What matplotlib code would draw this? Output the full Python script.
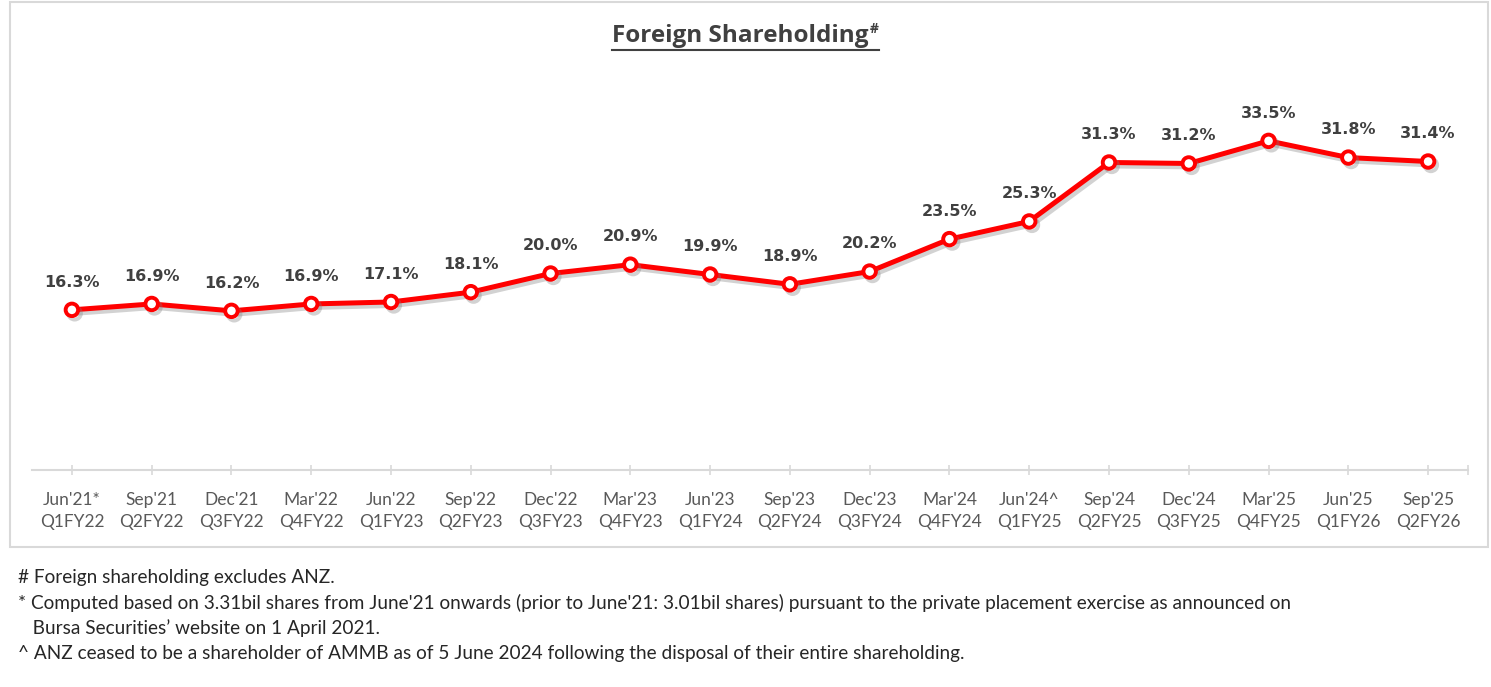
# foreign shareholding - line chart s popismi
import matplotlib.pyplot as plt
import matplotlib.patheffects as pe
from matplotlib.lines import Line2D
from matplotlib.patches import Rectangle

periods = ["Jun'21*", "Sep'21", "Dec'21", "Mar'22", "Jun'22", "Sep'22", "Dec'22", "Mar'23", "Jun'23",
           "Sep'23", "Dec'23", "Mar'24", "Jun'24^", "Sep'24", "Dec'24", "Mar'25", "Jun'25", "Sep'25"]
quarters = ["Q1FY22", "Q2FY22", "Q3FY22", "Q4FY22", "Q1FY23", "Q2FY23", "Q3FY23", "Q4FY23", "Q1FY24",
            "Q2FY24", "Q3FY24", "Q4FY24", "Q1FY25", "Q2FY25", "Q3FY25", "Q4FY25", "Q1FY26", "Q2FY26"]
foreign_pct = [16.3, 16.9, 16.2, 16.9, 17.1, 18.1, 20.0, 20.9, 19.9,
               18.9, 20.2, 23.5, 25.3, 31.3, 31.2, 33.5, 31.8, 31.4]
footnotes = [
    "# Foreign shareholding excludes ANZ.",
    "* Computed based on 3.31bil shares from June'21 onwards (prior to June'21: 3.01bil shares) pursuant to the private placement exercise as announced on",
    "   Bursa Securities\u2019 website on 1 April 2021.",
    "^ ANZ ceased to be a shareholder of AMMB as of 5 June 2024 following the disposal of their entire shareholding.",
]

W, H = 1491, 687
fig = plt.figure(figsize=(W / 100, H / 100), dpi=100)
fig.patch.set_facecolor("white")

# ramik okolo grafu
fig.add_artist(Rectangle((10 / W, 1 - 547 / H), 1478 / W, 545 / H, transform=fig.transFigure,
                         fill=False, edgecolor="#d9d9d9", linewidth=1.5))

ax = fig.add_axes([32 / W, 217 / H, 1436 / W, 393 / H])
x = list(range(len(foreign_pct)))
ax.plot(x, foreign_pct, "-o", color="#ff0000", lw=3.6, ms=9, mfc="white", mec="#ff0000", mew=2.8,
        path_effects=[pe.SimpleLineShadow(offset=(2, -2.5), shadow_color="#808080", alpha=0.35),
                      pe.Normal()], zorder=3)

for xi, v in zip(x, foreign_pct):
    ax.annotate(f"{v:.1f}%", xy=(xi, v), xytext=(0, 20), textcoords="offset points",
                ha="center", va="center", fontsize=11.5, fontweight="bold", color="#404040",
                family="DejaVu Sans")

ax.set_xlim(-0.5, len(x) - 0.5)
ax.set_ylim(0, 40)
ax.set_xticks(x + [len(x) - 0.5])
ax.set_xticklabels([f"{p}\n{q}" for p, q in zip(periods, quarters)] + [""],
                   fontsize=12.5, color="#595959", family="Lato", linespacing=1.5)
ax.tick_params(axis="x", direction="inout", length=7, width=1.2, color="#d9d9d9", pad=12)
ax.set_yticks([])
for s in ["top", "right", "left"]:
    ax.spines[s].set_visible(False)
ax.spines["bottom"].set_color("#d9d9d9")
ax.spines["bottom"].set_linewidth(1.5)

# nadpis s podciarknutim a hornym indexom
title = fig.text(0.5, 1 - 36 / H, "Foreign Shareholding", ha="center", va="center",
                 fontsize=17.5, fontweight="bold", color="#404040", family="Open Sans")
fig.canvas.draw()
r = fig.canvas.get_renderer()
bb = title.get_window_extent(r)
sup = fig.text(bb.x1 / W + 1 / W, 1 - 29 / H, "#", ha="left", va="center", fontsize=10,
               fontweight="bold", color="#404040", family="Open Sans")
sb = sup.get_window_extent(r)
shift = (sb.x1 - bb.x0) / 2 - (bb.x1 - bb.x0) / 2
title.set_x(0.5 - shift / W)
sup.set_x(sup.get_position()[0] - shift / W)
fig.add_artist(Line2D([(bb.x0 - shift) / W, (sb.x1 - shift) / W], [1 - 50 / H, 1 - 50 / H],
                      transform=fig.transFigure, color="#404040", lw=1.5))

for i, line in enumerate(footnotes):
    fig.text(18 / W, 1 - (577 + i * 25.5) / H, line, ha="left", va="center", fontsize=13.7,
             color="#262626", family="Lato")

fig.savefig("out.png", dpi=100)
